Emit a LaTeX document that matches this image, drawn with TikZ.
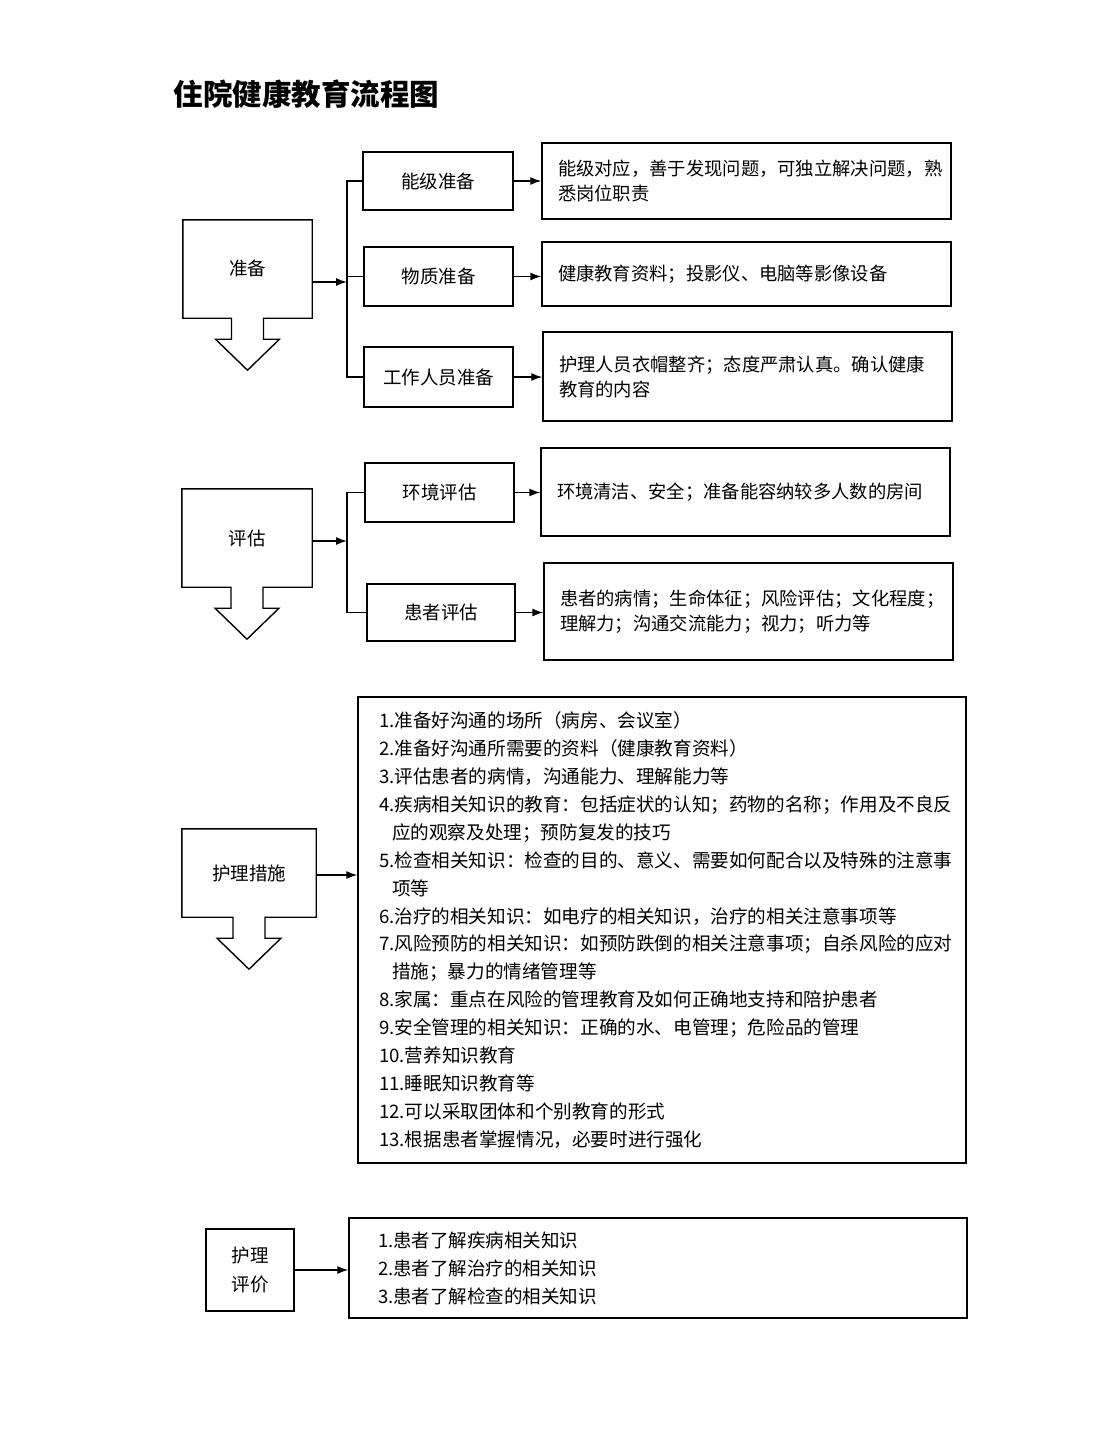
\documentclass[tikz,border=0pt]{standalone}
\usepackage{fontspec}
\setmainfont{Noto Sans CJK SC}
\usepackage{tikz}
\usetikzlibrary{arrows.meta,calc}

\tikzset{
    outline/.style={line width=1.4pt},
    stepbox/.style={draw,line width=1.4pt,inner sep=0pt,font=\fontsize{18.5}{25}\selectfont},
    infobox/.style={draw,line width=1.4pt,align=left,text width=377pt,inner xsep=16pt,inner ysep=0pt,font=\fontsize{18.3}{25}\selectfont},
    listbox/.style={draw,line width=1.4pt,align=left,text width=566pt,inner xsep=21pt,inner ysep=0pt,font=\fontsize{18.6}{27.9}\selectfont},
    flow/.style={line width=1.4pt,-{Latex[length=11pt,width=8pt]}}
}

\begin{document}
\begin{tikzpicture}[x=1pt,y=-1pt]
    \useasboundingbox[fill=white] (0,0) rectangle (1116,1437);
    \node[anchor=west,font=\fontsize{29.5}{32}\selectfont\bfseries] (title) at (170,94) {住院健康教育流程图};

    % left column: boxes with a down arrow
    \node[minimum width=129pt,minimum height=98pt,font=\fontsize{18.5}{25}\selectfont] (prep) at (247.5,269) {\raisebox{3pt}{准备}};
    \node[minimum width=130pt,minimum height=98pt,font=\fontsize{18.5}{25}\selectfont] (assess) at (247,538) {评估};
    \node[minimum width=134pt,minimum height=88pt,font=\fontsize{18.5}{25}\selectfont] (measure) at (249,873) {护理措施};
    \foreach \n in {prep,assess,measure}
        \draw[outline] (\n.north west) -- (\n.north east) -- (\n.south east)
            -- ($(\n.south)+(16,0)$) -- ++(0,21) -- ++(16,0) -- ($(\n.south)+(0,52)$)
            -- ($(\n.south)+(-32,21)$) -- ++(16,0) -- ($(\n.south)+(-16,0)$)
            -- (\n.south west) -- cycle;
    \node[stepbox,minimum width=88pt,minimum height=82pt,align=center,font=\fontsize{18.5}{29}\selectfont] (eval) at (250,1270) {护理\\评价};

    % preparation
    \node[stepbox,minimum width=150pt,minimum height=58pt] (level) at (438,181) {能级准备};
    \node[stepbox,minimum width=149pt,minimum height=59pt] (goods) at (438.5,276.5) {物质准备};
    \node[stepbox,minimum width=149pt,minimum height=60pt] (staff) at (438.5,377) {工作人员准备};
    \node[infobox,minimum height=76pt] (levelinfo) at (746.5,181) {能级对应，善于发现问题，可独立解决问题，熟\\悉岗位职责};
    \node[infobox,minimum height=64pt] (goodsinfo) at (746.5,274) {健康教育资料；投影仪、电脑等影像设备};
    \node[infobox,minimum height=89pt] (staffinfo) at (747.5,376.5) {护理人员衣帽整齐；态度严肃认真。确认健康\\教育的内容};
    \coordinate (j1) at (347,282);
    \draw[flow] (prep.east |- j1) -- (j1);
    \draw[outline] (level.west) -- (level.west -| j1) -- (staff.west -| j1) -- (staff.west);
    \draw[outline] (goods.west -| j1) -- (goods.west);
    \draw[flow] (level.east) -- (level.east -| levelinfo.west);
    \draw[flow] (goods.east) -- (goods.east -| goodsinfo.west);
    \draw[flow] (staff.east) -- (staff.east -| staffinfo.west);

    % assessment
    \node[stepbox,minimum width=149pt,minimum height=59pt] (env) at (439.5,492.5) {环境评估};
    \node[stepbox,minimum width=148pt,minimum height=57pt] (patient) at (441,612.5) {患者评估};
    \node[infobox,minimum height=88pt] (envinfo) at (745.5,492) {环境清洁、安全；准备能容纳较多人数的房间};
    \node[infobox,minimum height=97pt] (patinfo) at (748.5,611.5) {患者的病情；生命体征；风险评估；文化程度；\\理解力；沟通交流能力；视力；听力等};
    \coordinate (j2) at (347,541);
    \draw[flow] (assess.east |- j2) -- (j2);
    \draw[outline] (env.west) -- (env.west -| j2) -- (patient.west -| j2) -- (patient.west);
    \draw[flow] (env.east) -- (env.east -| envinfo.west);
    \draw[flow] (patient.east) -- (patient.east -| patinfo.west);

    % nursing measures
    \node[listbox,minimum height=466pt] (measurelist) at (662,930) {%
        1.准备好沟通的场所（病房、会议室）\\
        2.准备好沟通所需要的资料（健康教育资料）\\
        3.评估患者的病情，沟通能力、理解能力等\\
        4.疾病相关知识的教育：包括症状的认知；药物的名称；作用及不良反\\
        \hspace*{13pt}应的观察及处理；预防复发的技巧\\
        5.检查相关知识：检查的目的、意义、需要如何配合以及特殊的注意事\\
        \hspace*{13pt}项等\\
        6.治疗的相关知识：如电疗的相关知识，治疗的相关注意事项等\\
        7.风险预防的相关知识：如预防跌倒的相关注意事项；自杀风险的应对\\
        \hspace*{13pt}措施；暴力的情绪管理等\\
        8.家属：重点在风险的管理教育及如何正确地支持和陪护患者\\
        9.安全管理的相关知识：正确的水、电管理；危险品的管理\\
        10.营养知识教育\\
        11.睡眠知识教育等\\
        12.可以采取团体和个别教育的形式\\
        13.根据患者掌握情况，必要时进行强化};
    \draw[flow] (measure.east |- 0,875) -- (measurelist.west |- 0,875);

    % evaluation
    \node[draw,line width=1.4pt,align=left,text width=560pt,inner xsep=29pt,inner ysep=0pt,minimum height=100pt,font=\fontsize{18.5}{28}\selectfont] (result) at (658,1268) {%
        1.患者了解疾病相关知识\\
        2.患者了解治疗的相关知识\\
        3.患者了解检查的相关知识};
    \draw[flow] (eval.east) -- (eval.east -| result.west);
\end{tikzpicture}
\end{document}
